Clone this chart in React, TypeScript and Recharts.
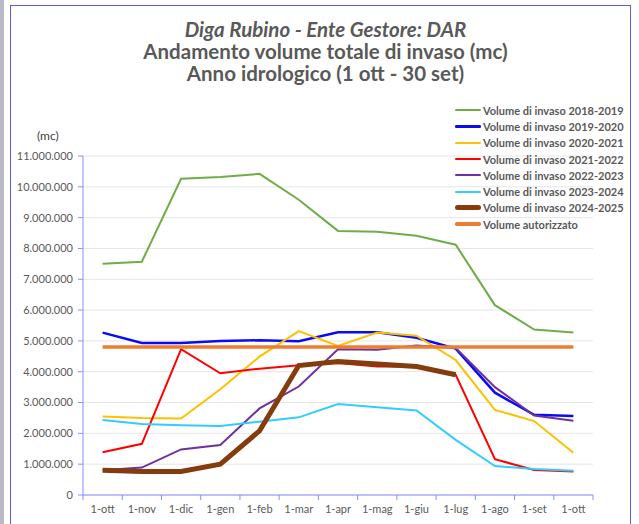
import React from 'react';
import { LineChart, Line, XAxis, YAxis, CartesianGrid } from 'recharts';

const months = [
  '1-ott', '1-nov', '1-dic', '1-gen', '1-feb', '1-mar', '1-apr',
  '1-mag', '1-giu', '1-lug', '1-ago', '1-set', '1-ott',
];

// valori in milioni di mc
const vol1819 = [7.5, 7.57, 10.26, 10.32, 10.42, 9.58, 8.57, 8.54, 8.41, 8.12, 6.16, 5.37, 5.27];
const vol1920 = [5.27, 4.93, 4.93, 5.0, 5.02, 4.99, 5.28, 5.28, 5.1, 4.75, 3.32, 2.6, 2.56];
const vol2021 = [2.55, 2.5, 2.48, 3.43, 4.49, 5.32, 4.84, 5.27, 5.17, 4.38, 2.76, 2.4, 1.37];
const vol2122 = [1.39, 1.66, 4.73, 3.95, 4.1, 4.21, 4.28, 4.17, 4.17, 3.9, 1.16, 0.81, 0.76];
const vol2223 = [0.8, 0.89, 1.48, 1.62, 2.81, 3.52, 4.73, 4.71, 4.85, 4.77, 3.5, 2.58, 2.41];
const vol2324 = [2.43, 2.3, 2.26, 2.24, 2.38, 2.52, 2.95, 2.85, 2.74, 1.79, 0.94, 0.84, 0.79];
const vol2425 = [0.8, 0.76, 0.76, 1.0, 2.08, 4.2, 4.33, 4.25, 4.17, 3.9, null, null, null];
const autorizzato = [4.8, 4.8, 4.8, 4.8, 4.8, 4.8, 4.8, 4.8, 4.8, 4.8, 4.8, 4.8, 4.8];

const yTicks = [0, 1, 2, 3, 4, 5, 6, 7, 8, 9, 10, 11];

const series = [
  { key: 'v1819', name: 'Volume di invaso 2018-2019', values: vol1819, color: '#70AD47', width: 2 },
  { key: 'v1920', name: 'Volume di invaso 2019-2020', values: vol1920, color: '#0A0AF5', width: 2.5 },
  { key: 'v2021', name: 'Volume di invaso 2020-2021', values: vol2021, color: '#FFC000', width: 2 },
  { key: 'v2122', name: 'Volume di invaso 2021-2022', values: vol2122, color: '#FF0000', width: 2 },
  { key: 'v2223', name: 'Volume di invaso 2022-2023', values: vol2223, color: '#7030A0', width: 2 },
  { key: 'v2324', name: 'Volume di invaso 2023-2024', values: vol2324, color: '#33CCFF', width: 2 },
  { key: 'v2425', name: 'Volume di invaso 2024-2025', values: vol2425, color: '#843C0C', width: 5 },
  { key: 'aut', name: 'Volume autorizzato', values: autorizzato, color: '#ED7D31', width: 3.5 },
];

const data = months.map((m, i) => {
  const row: any = { i };
  series.forEach((s) => {
    const v = s.values[i];
    row[s.key] = v == null ? null : v * 1000000;
  });
  return row;
});

const fmt = (v: number) => v.toLocaleString('de-DE');

const AXIS = '#8C8CFF';
const TEXT = '#595959';
const HALF = 19.6;

const MonthTick = (props: any) => {
  const { x, y, payload, index } = props;
  return (
    <g>
      <line x1={x - HALF} y1={y} x2={x - HALF} y2={y + 5} stroke={AXIS} />
      {index === months.length - 1 && (
        <line x1={x + HALF} y1={y} x2={x + HALF} y2={y + 5} stroke={AXIS} />
      )}
      <text x={x} y={y + 18} textAnchor="middle" fill={TEXT} fontSize={11}>
        {months[payload.value]}
      </text>
    </g>
  );
};

export default function App() {
  return (
    <div
      style={{
        position: 'absolute', left: 0, top: 0, width: 639, height: 524,
        background: '#fff', overflow: 'hidden', fontFamily: 'Lato, sans-serif',
      }}
    >
      <div style={{ position: 'absolute', left: 0, top: 0, width: 4, height: 524, background: '#b8b8c8' }} />
      <div
        style={{
          position: 'absolute', left: 10, top: 5, width: 621, height: 540,
          border: '1.5px solid #5B5BE0', boxSizing: 'border-box',
        }}
      />
      <div
        style={{
          position: 'absolute', left: 6, top: 18, width: 639, textAlign: 'center',
          color: TEXT, fontWeight: 700, fontSize: 20.5, lineHeight: '22px',
        }}
      >
        <div style={{ fontStyle: 'italic' }}>Diga Rubino - Ente Gestore: DAR</div>
        <div>Andamento volume totale di invaso (mc)</div>
        <div>Anno idrologico (1 ott - 30 set)</div>
      </div>
      <div style={{ position: 'absolute', left: 37, top: 128, fontSize: 12, color: '#404040' }}>(mc)</div>

      <div style={{ position: 'absolute', left: 0, top: 0 }}>
        <LineChart
          width={639}
          height={524}
          data={data}
          margin={{ top: 156, right: 46, left: 0, bottom: 4 }}
          style={{ fontFamily: 'Lato, sans-serif' }}
        >
          <CartesianGrid vertical={false} stroke="#E6E6E6" />
          <XAxis
            dataKey="i"
            type="category"
            height={25}
            padding={{ left: HALF, right: HALF }}
            stroke={AXIS}
            tickSize={0}
            tickMargin={0}
            tickLine={false}
            interval={0}
            tick={<MonthTick />}
          />
          <YAxis
            width={83}
            domain={[0, 11000000]}
            ticks={yTicks.map((t) => t * 1000000)}
            tickFormatter={fmt}
            stroke={AXIS}
            tickSize={5}
            tickMargin={5}
            tick={{ fill: TEXT, fontSize: 11 }}
            interval={0}
          />
          {series.map((s) => (
            <Line
              key={s.key}
              dataKey={s.key}
              name={s.name}
              stroke={s.color}
              strokeWidth={s.width}
              dot={false}
              type="linear"
              isAnimationActive={false}
            />
          ))}
        </LineChart>
      </div>

      <div style={{ position: 'absolute', left: 455, top: 102 }}>
        {series.map((s) => (
          <div key={s.key} style={{ display: 'flex', alignItems: 'center', height: 16.3 }}>
            <div style={{ width: 26, height: s.width, background: s.color, borderRadius: s.width / 2 }} />
            <span style={{ marginLeft: 2, fontSize: 11, fontWeight: 700, color: TEXT, whiteSpace: 'nowrap' }}>
              {s.name}
            </span>
          </div>
        ))}
      </div>
    </div>
  );
}
